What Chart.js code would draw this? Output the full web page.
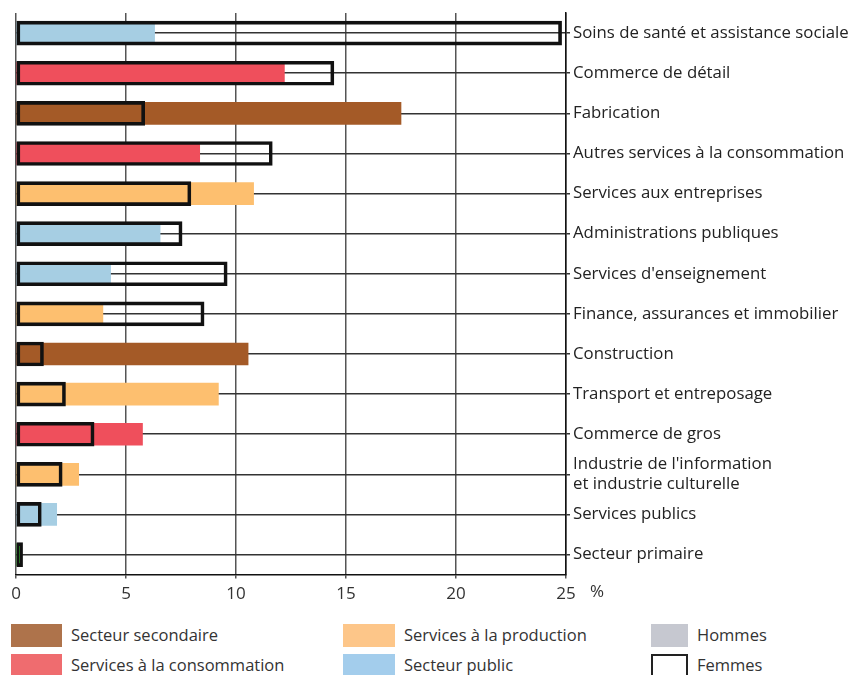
<!DOCTYPE html>
<html lang="fr">
<head>
<meta charset="utf-8">
<script src="https://cdn.jsdelivr.net/npm/chart.js@4"></script>
<style>
  html,body{margin:0;padding:0;background:#fff;}
  body{width:853px;height:675px;position:relative;overflow:hidden;font-family:"Open Sans",sans-serif;}
  #wrap{position:absolute;left:0;top:0;width:853px;height:609px;}
  .lg{position:absolute;font-size:16.5px;color:#333;line-height:22px;white-space:nowrap;}
  .sw{position:absolute;}
</style>
</head>
<body>
<div id="wrap"><canvas id="c"></canvas></div>
<div id="legend"></div>
<script>
// categories, top to bottom
const categories = [
  'Soins de santé et assistance sociale',
  'Commerce de détail',
  'Fabrication',
  'Autres services à la consommation',
  'Services aux entreprises',
  'Administrations publiques',
  "Services d'enseignement",
  'Finance, assurances et immobilier',
  'Construction',
  'Transport et entreposage',
  'Commerce de gros',
  ["Industrie de l'information", 'et industrie culturelle'],
  'Services publics',
  'Secteur primaire'
];
// % of employment
const hommes = [6.3, 12.2, 17.5, 8.35, 10.8, 6.55, 4.3, 3.95, 10.55, 9.2, 5.75, 2.85, 1.85, 0.25];
const femmes = [24.8, 14.45, 5.85, 11.65, 7.95, 7.55, 9.6, 8.55, 1.25, 2.25, 3.55, 2.1, 1.15, 0.3];
const sectorOf = ['pub','cons','sec','cons','prod','pub','pub','prod','sec','prod','cons','prod','pub','prim'];
const barColors = {sec:'#a45a27', cons:'#ef4f5c', prod:'#fdbf6f', pub:'#a6cee3', prim:'#33a02c'};
const xTicks = [0, 5, 10, 15, 20, 25];

const legendItems = [
  {label:'Secteur secondaire', color:'#ae734b', x:11, y:624, w:51},
  {label:'Services à la consommation', color:'#ef6c6f', x:11, y:654, w:51},
  {label:'Services à la production', color:'#fdc689', x:343, y:624, w:52},
  {label:'Secteur public', color:'#a3cdec', x:343, y:654, w:52},
  {label:'Hommes', color:'#c6c8d0', x:651, y:624, w:37},
  {label:'Femmes', color:null, x:651, y:654, w:37}
];

const legend = document.getElementById('legend');
legend.innerHTML = legendItems.map(it => `
  <div class="sw" style="left:${it.x}px;top:${it.y}px;width:${it.w}px;height:23px;${it.color ? 'background:'+it.color : 'box-sizing:border-box;border:2px solid #222;border-bottom:none;height:24px'}"></div>
  <div class="lg" style="left:${it.x + it.w + 9}px;top:${it.y}px;">${it.label}</div>
`).join('');

const percentSign = {
  id:'percentSign',
  afterDraw(chart){
    const xs = chart.scales.x, ctx = chart.ctx;
    ctx.save();
    ctx.font = '17px "Open Sans"';
    ctx.fillStyle = '#333';
    ctx.textBaseline = 'top';
    ctx.fillText('%', xs.getPixelForValue(25) + 24, xs.top + 9);
    ctx.restore();
  }
};

new Chart(document.getElementById('c'), {
  type:'bar',
  data:{ labels: categories, datasets:[
    {label:'Femmes', data: femmes, backgroundColor:'rgba(0,0,0,0)', borderColor:'#111', borderWidth:3,
     barThickness:24, order:0, borderSkipped:false},
    {label:'Hommes', data: hommes, backgroundColor: sectorOf.map(s=>barColors[s]),
     borderWidth:0, barThickness:22, order:1},
  ]},
  options:{
    indexAxis:'y', responsive:true, maintainAspectRatio:false, animation:false,
    layout:{ padding:{ left:16, top:7, right:0, bottom:0 } },
    plugins:{ legend:{display:false}, tooltip:{enabled:false} },
    scales:{
      x:{ min:0, max:25, stacked:false,
        afterBuildTicks: s => { s.ticks = xTicks.map(v=>({value:v})); },
        grid:{ color:'#555', lineWidth:1.5, drawTicks:true, tickLength:4 },
        border:{ display:true, color:'#111', width:1.5 },
        ticks:{ font:{ family:'Open Sans', size:17 }, color:'#333', padding:5, maxRotation:0 } },
      y:{ position:'right', stacked:true,
        afterFit: s => { s.width = 287; },
        grid:{ offset:false, color:'#333', lineWidth:1.5, tickLength:4 },
        border:{ display:true, color:'#111', width:1.5 },
        ticks:{ font:{ family:'Open Sans', size:16.8 }, color:'#222', padding:3, autoSkip:false, lineHeight:1.05 } }
    }
  },
  plugins:[percentSign]
});
</script>
</body>
</html>
